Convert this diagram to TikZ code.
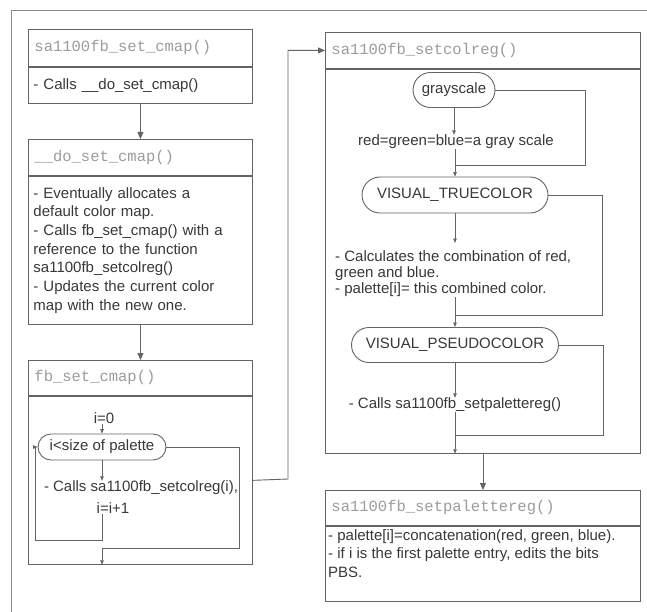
\documentclass[tikz,border=0pt]{standalone}
\usepackage{fontspec}
\setmainfont{Liberation Sans}
\newfontfamily\hdrmono{Liberation Mono}
\usetikzlibrary{arrows.meta,shapes.misc}
\definecolor{linec}{HTML}{646464}
\definecolor{txtc}{HTML}{383838}
\definecolor{hdrc}{HTML}{9C9C9C}
\definecolor{framec}{HTML}{8A8A8A}

\begin{document}
\begin{tikzpicture}[x=1pt,y=-1pt,
  every node/.style={inner sep=0pt,text=txtc},
  bodyfont/.style={font=\fontsize{15}{18.7}\selectfont},
  hdrL/.style={draw=linec,line width=.9pt,anchor=north west,inner xsep=6pt,
    text width=212pt,align=left,font=\hdrmono\fontsize{15.5}{16}\selectfont,text=hdrc},
  hdrR/.style={hdrL,text width=303pt},
  bodyL/.style={draw=linec,line width=.9pt,anchor=north,inner xsep=5pt,
    text width=214pt,align=left,bodyfont},
  bodyR/.style={bodyL,text width=305pt},
  pill/.style={draw=linec,line width=.9pt,rounded rectangle,fill=white,bodyfont},
  wire/.style={draw=linec,line width=.9pt},
  bigarr/.style={wire,-{Triangle[length=7pt,width=6pt]}},
  smallarr/.style={draw=linec,line width=.7pt,-{Triangle[length=4.5pt,width=3.5pt]}}
]
\fill[white] (0,0) rectangle (647,612);
\useasboundingbox (0,0) rectangle (647,612);

% outer frame
\draw[framec,line width=1pt] (11,612) -- (11,11) -- (647,11);

% sa1100fb_set_cmap()
\node[hdrL,minimum height=37pt] (b1h) at (28,29) {sa1100fb\_set\_cmap()};
\node[bodyL,minimum height=36pt] (b1b) at (b1h.south) {- Calls \_\_do\_set\_cmap()};

% __do_set_cmap()
\node[hdrL,minimum height=36pt] (b2h) at (28,139) {\_\_do\_set\_cmap()};
\node[bodyL,minimum height=148pt] (b2b) at (b2h.south)
  {- Eventually allocates a\\default color map.\\- Calls fb\_set\_cmap() with a\\reference to the function\\sa1100fb\_setcolreg()\\- Updates the current color\\map with the new one.};

% fb_set_cmap()
\node[hdrL,minimum height=35pt] (b3h) at (28,360) {fb\_set\_cmap()};
\node[bodyL,minimum height=168pt] (b3b) at (b3h.south) {};

\node[bodyfont] (i0) at (104,418) {i=0};
\node[pill,minimum width=128pt,minimum height=26pt] (r1) at (102,447) {i<size of palette};
\node[bodyfont] (t3a) at (141,488) {- Calls sa1100fb\_setcolreg(i),};
\node[bodyfont] (t3b) at (113,508) {i=i+1};
\coordinate (lpA) at (102,540);
\coordinate (lpB) at (35,540);
\coordinate (ex) at (239,548);

\draw[smallarr] (r1.north |- i0.south) -- (r1.north);
\draw[smallarr] (r1.south) -- (r1.south |- t3a.north);
\draw[smallarr] (t3b.south -| lpA) -- (lpA) -- (lpB) -- (lpB |- r1.west) -- (r1.west);
\draw[smallarr] (r1.east) -- (r1.east -| ex) -- (ex) -- (ex -| r1.south) -- (r1.south |- b3b.south);

% sa1100fb_setcolreg()
\node[hdrR,minimum height=36pt] (b4h) at (325,32) {sa1100fb\_setcolreg()};
\node[bodyR,minimum height=384pt] (b4b) at (b4h.south) {};

\node[pill,minimum width=82pt,minimum height=35pt] (g1) at (454,90) {grayscale};
\node[bodyfont] (tg) at (456,142) {red=green=blue=a gray scale};
\node[pill,minimum width=186pt,minimum height=36pt] (vt) at (455,195) {VISUAL\_TRUECOLOR};
\node[anchor=north west,align=left,font=\fontsize{15}{16}\selectfont] (tc) at (335,250)
  {- Calculates the combination of red,\\green and blue.\\- palette[i]= this combined color.};
\node[pill,minimum width=207pt,minimum height=35pt] (pc) at (455,345) {VISUAL\_PSEUDOCOLOR};
\node[bodyfont] (tp) at (455,405) {- Calls sa1100fb\_setpalettereg()};
\coordinate (j1) at (585,165);
\coordinate (j2) at (602,315);
\coordinate (j3) at (603,435);
\coordinate (tcin) at (455,243);
\coordinate (tcout) at (455,297);

\draw[smallarr] (g1.south) -- (g1.south |- tg.north);
\draw[wire] (g1.east) -- (g1.east -| j1) -- (j1) -- (j1 -| vt.north);
\draw[smallarr] (vt.north |- tg.south) -- (vt.north);
\draw[smallarr] (vt.south) -- (tcin);
\draw[wire] (vt.east) -- (vt.east -| j2) -- (j2) -- (j2 -| vt.north);
\draw[smallarr] (tcout) -- (pc.north);
\draw[smallarr] (pc.south) -- (pc.south |- tp.north);
\draw[wire] (pc.east) -- (pc.east -| j3) -- (j3) -- (j3 -| pc.north);
\draw[smallarr] (tp.south) -- (tp.south |- b4b.south);

% sa1100fb_setpalettereg()
\node[hdrR,minimum height=35pt] (b5h) at (325,490) {sa1100fb\_setpalettereg()};
\node[bodyR,minimum height=75pt] (b5b) at (b5h.south) {};
\node[anchor=north west,align=left,font=\fontsize{15}{18.5}\selectfont] (t5) at (328,529)
  {- palette[i]=concatenation(red, green, blue).\\- if i is the first palette entry, edits the bits\\PBS.};

% calls between functions
\draw[bigarr] (b1b.south) -- (b2h.north);
\draw[bigarr] (b2b.south) -- (b3h.north);
\coordinate (up) at (288,479);
\draw[bigarr] (b3b.east) -- (up) -- (up |- b4h.west) -- (b4h.west);
\draw[bigarr] (b4b.south) -- (b5h.north);
\end{tikzpicture}
\end{document}
